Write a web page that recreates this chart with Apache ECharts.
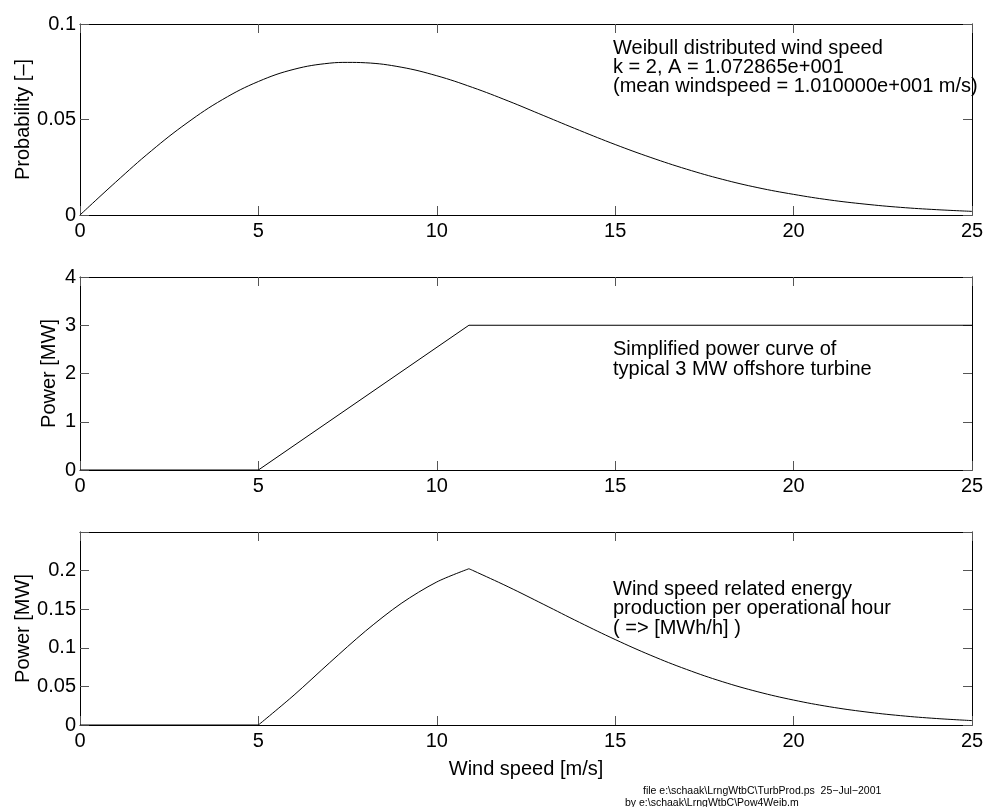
<!DOCTYPE html>
<html>
<head>
<meta charset="utf-8">
<script src="https://cdn.jsdelivr.net/npm/echarts@6/dist/echarts.min.js"></script>
<style>html,body{margin:0;padding:0;background:#fff}#chart{width:983px;height:807px}</style>
</head>
<body>
<div id="chart"></div>
<script>
// ---- data ----
const windSpeed = [0,1,2,3,4,5,6,7,7.5,8,9,10,11,12,13,14,15,16,17,18,19,20,21,22,23,24,25];
const probability = [0,0.0172,0.0336,0.0482,0.0605,0.0699,0.0763,0.0795,0.0799,0.0797,0.0774,0.0729,0.0668,0.0597,0.0520,0.0443,0.0369,0.0301,0.0240,0.0187,0.0143,0.0108,0.0079,0.0057,0.0040,0.0028,0.0019];

const powerSpeed = [0,5,10.9,25];
const powerMW = [0,0,3,3];

const energySpeed = [0,5,6,7,8,9,10,10.9,11,12,13,14,15,16,17,18,19,20,21,22,23,24,25];
const energyMW = [0,0,0.0388,0.0808,0.1216,0.1574,0.1853,0.2024,0.2004,0.1790,0.1561,0.1329,0.1107,0.0902,0.0720,0.0562,0.0430,0.0323,0.0237,0.0171,0.0121,0.0084,0.0057];

const xTicks = {min:0, max:25, interval:5};
const yProb = {min:0, max:0.1, interval:0.05, name:'Probability [\u2013]', gap:47};
const yPower = {min:0, max:4, interval:1, name:'Power [MW]', gap:21};
const yEnergy = {min:0, max:0.25, interval:0.05, name:'Power [MW]', gap:47, hideAbove:0.21};

const annot1 = 'Weibull distributed wind speed\nk = 2, A = 1.072865e+001\n(mean windspeed = 1.010000e+001 m/s)';
const annot2 = 'Simplified power curve of\ntypical 3 MW offshore turbine';
const annot3 = 'Wind speed related energy\nproduction per operational hour\n( => [MWh/h] )';
const footer1 = 'file e:\\schaak\\LrngWtbC\\TurbProd.ps  25\u2212Jul\u22122001';
const footer2 = 'by e:\\schaak\\LrngWtbC\\Pow4Weib.m';

// ---- build chart ----
const FONT = '"Liberation Sans", Arial, Helvetica, sans-serif';
const FS = 20;
const grids = [
  {left:80, right:11, top:24, height:191, containLabel:false, outerBoundsMode:'none'},
  {left:80, right:11, top:277, height:193, containLabel:false, outerBoundsMode:'none'},
  {left:80, right:11, top:532, height:193, containLabel:false, outerBoundsMode:'none'}
];
const lineStyle = {color:'#000', width:1};
const tickStyle = {inside:true, length:9, lineStyle:{color:'#555', width:1}};

const xAxis = [], yAxis = [];
grids.forEach((g, i) => {
  xAxis.push({
    type:'value', gridIndex:i, min:xTicks.min, max:xTicks.max, interval:xTicks.interval,
    position:'bottom',
    axisLine:{show:true, onZero:false, lineStyle},
    axisTick:tickStyle,
    axisLabel:{color:'#000', fontSize:FS, fontFamily:FONT, margin:6},
    splitLine:{show:false},
    name: i === 2 ? 'Wind speed [m/s]' : '',
    nameLocation:'middle', nameGap:34, nameMoveOverlap:false,
    nameTextStyle:{color:'#000', fontSize:FS, fontFamily:FONT}
  });
  xAxis.push({
    type:'value', gridIndex:i, min:xTicks.min, max:xTicks.max, interval:xTicks.interval,
    position:'top',
    axisLine:{show:true, onZero:false, lineStyle},
    axisTick:tickStyle, axisLabel:{show:false}, splitLine:{show:false}
  });
});
[yProb, yPower, yEnergy].forEach((y, i) => {
  yAxis.push({
    type:'value', gridIndex:i, min:y.min, max:y.max, interval:y.interval,
    position:'left',
    axisLine:{show:true, onZero:false, lineStyle},
    axisTick:tickStyle,
    axisLabel:{color:'#000', fontSize:FS, fontFamily:FONT, margin:4,
      formatter: v => (y.hideAbove !== undefined && v > y.hideAbove) ? '' : String(+v.toFixed(4))},
    splitLine:{show:false},
    name:y.name, nameLocation:'middle', nameGap:y.gap, nameRotate:90, nameMoveOverlap:false,
    nameTextStyle:{color:'#000', fontSize:FS, fontFamily:FONT}
  });
  yAxis.push({
    type:'value', gridIndex:i, min:y.min, max:y.max, interval:y.interval,
    position:'right',
    axisLine:{show:true, onZero:false, lineStyle},
    axisTick:tickStyle, axisLabel:{show:false}, splitLine:{show:false}
  });
});

const zip = (xs, ys) => xs.map((x, k) => [x, ys[k]]);
const energyPts = zip(energySpeed, energyMW);
const peakIdx = energyMW.indexOf(Math.max(...energyMW));
const startIdx = energySpeed.indexOf(5);

const baseSeries = {type:'line', showSymbol:false, symbol:'none', lineStyle:{color:'#000', width:1}, silent:true, animation:false};
const series = [
  Object.assign({}, baseSeries, {xAxisIndex:0, yAxisIndex:0, smooth:0.4, data:zip(windSpeed, probability)}),
  Object.assign({}, baseSeries, {xAxisIndex:2, yAxisIndex:2, data:zip(powerSpeed, powerMW)}),
  Object.assign({}, baseSeries, {xAxisIndex:4, yAxisIndex:4, data:energyPts.slice(0, startIdx + 1)}),
  Object.assign({}, baseSeries, {xAxisIndex:4, yAxisIndex:4, smooth:0.3, data:energyPts.slice(startIdx, peakIdx + 1)}),
  Object.assign({}, baseSeries, {xAxisIndex:4, yAxisIndex:4, smooth:0.4, data:energyPts.slice(peakIdx)})
];

const txt = (s, left, top, size, lh) => ({
  type:'text', left, top,
  style:{text:s, fill:'#000', font: size + 'px ' + FONT, lineHeight:lh}
});

const chart = echarts.init(document.getElementById('chart'), null, {renderer:'canvas'});
chart.setOption({
  animation:false,
  backgroundColor:'#fff',
  grid:grids,
  xAxis, yAxis, series,
  graphic:[
    txt(annot1, 613, 38, FS, 19),
    txt(annot2, 613, 339, FS, 20),
    txt(annot3, 613, 579, FS, 19.5),
    txt(footer1, 643, 785, 10.5, 12),
    txt(footer2, 625, 797, 10.5, 12)
  ]
});
</script>
</body>
</html>
